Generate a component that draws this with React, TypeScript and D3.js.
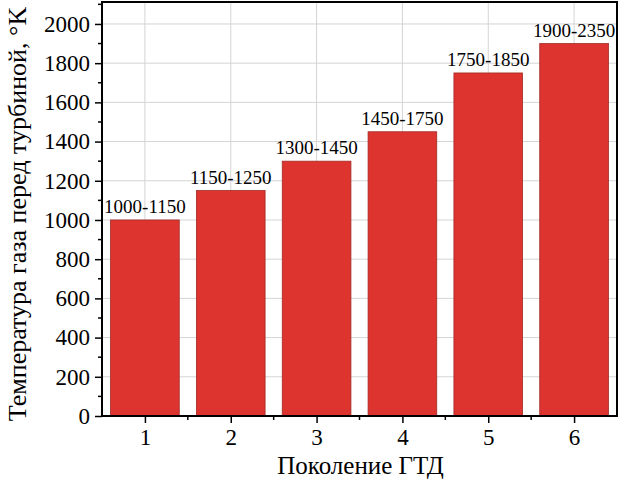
import React, { useEffect, useRef } from "react";
import * as d3 from "d3";

const generations = [1, 2, 3, 4, 5, 6];
const temperatures = [1000, 1150, 1300, 1450, 1750, 1900];
const rangeLabels = ["1000-1150", "1150-1250", "1300-1450", "1450-1750", "1750-1850", "1900-2350"];
const yTicks = [0, 200, 400, 600, 800, 1000, 1200, 1400, 1600, 1800, 2000];

export default function App() {
  const ref = useRef<SVGSVGElement>(null);

  useEffect(() => {
    const W = 628, H = 486;
    const margin = { top: 2, right: 11, bottom: 70, left: 102 };
    const w = W - margin.left - margin.right;
    const h = H - margin.top - margin.bottom;
    const font = "Liberation Serif, Times New Roman, serif";

    const svg = d3.select(ref.current);
    svg.selectAll("*").remove();
    const g = svg.append("g").attr("transform", `translate(${margin.left},${margin.top})`)
      .attr("font-family", font);

    const x = d3.scaleLinear().domain([0.5, 6.5]).range([0, w]);
    const y = d3.scaleLinear().domain([0, 2112]).range([h, 0]);

    // grid
    g.selectAll(".hgrid").data(yTicks.filter(d => d > 0)).join("line")
      .attr("x1", 0).attr("x2", w)
      .attr("y1", d => y(d)).attr("y2", d => y(d))
      .attr("stroke", "#d4d4d4").attr("stroke-width", 1);
    g.selectAll(".vgrid").data(generations).join("line")
      .attr("x1", d => x(d)).attr("x2", d => x(d))
      .attr("y1", 0).attr("y2", h)
      .attr("stroke", "#d4d4d4").attr("stroke-width", 1);

    // bars
    const bw = (x(2) - x(1)) * 0.8;
    g.selectAll(".bar").data(temperatures).join("rect")
      .attr("x", (d, i) => x(generations[i]) - bw / 2)
      .attr("y", d => y(d))
      .attr("width", bw)
      .attr("height", d => h - y(d))
      .attr("fill", "#de342f")
      .attr("stroke", "#a02a25")
      .attr("stroke-width", 0.8);

    g.selectAll(".lbl").data(temperatures).join("text")
      .attr("x", (d, i) => x(generations[i]))
      .attr("y", d => y(d) - 7)
      .attr("text-anchor", "middle")
      .attr("font-family", font).attr("font-size", 19)
      .text((d, i) => rangeLabels[i]);

    // frame
    g.append("rect").attr("x", 0).attr("y", 0).attr("width", w).attr("height", h)
      .attr("fill", "none").attr("stroke", "#000").attr("stroke-width", 2);

    // y axis
    const yAxis = g.append("g")
      .call(d3.axisLeft(y).tickValues(yTicks).tickSize(7).tickPadding(5).tickSizeOuter(0).tickFormat(d3.format("d")))
      .attr("font-family", font).attr("font-size", 23);
    yAxis.select(".domain").remove();
    yAxis.selectAll("line").attr("stroke-width", 1.5);
    yAxis.selectAll("text").attr("fill", "#000");
    const yMinor = d3.range(100, 2101, 200);
    g.selectAll(".yminor").data(yMinor).join("line")
      .attr("x1", -4).attr("x2", 0)
      .attr("y1", d => y(d)).attr("y2", d => y(d))
      .attr("stroke", "#000").attr("stroke-width", 1.5);

    // x axis
    const xAxis = g.append("g").attr("transform", `translate(0,${h})`)
      .call(d3.axisBottom(x).tickValues(generations).tickSize(7).tickPadding(6).tickSizeOuter(0).tickFormat(d3.format("d")))
      .attr("font-family", font).attr("font-size", 23);
    xAxis.select(".domain").remove();
    xAxis.selectAll("line").attr("stroke-width", 1.5);
    xAxis.selectAll("text").attr("fill", "#000");
    g.selectAll(".xminor").data(d3.range(1.5, 6.5, 1)).join("line")
      .attr("x1", d => x(d)).attr("x2", d => x(d))
      .attr("y1", h).attr("y2", h + 4)
      .attr("stroke", "#000").attr("stroke-width", 1.5);

    // titles
    g.append("text")
      .attr("x", w / 2 + 1).attr("y", h + 58)
      .attr("text-anchor", "middle")
      .attr("font-size", 25)
      .text("Поколение ГТД");

    g.append("text")
      .attr("transform", "rotate(-90)")
      .attr("x", -(h / 2 + 5)).attr("y", -margin.left + 26)
      .attr("text-anchor", "middle")
      .attr("font-size", 26)
      .text("Температура газа перед турбиной, °K");
  }, []);

  return (
    <svg ref={ref} width={628} height={486} style={{ position: "absolute", left: 0, top: 0, background: "#fff" }}></svg>
  );
}
